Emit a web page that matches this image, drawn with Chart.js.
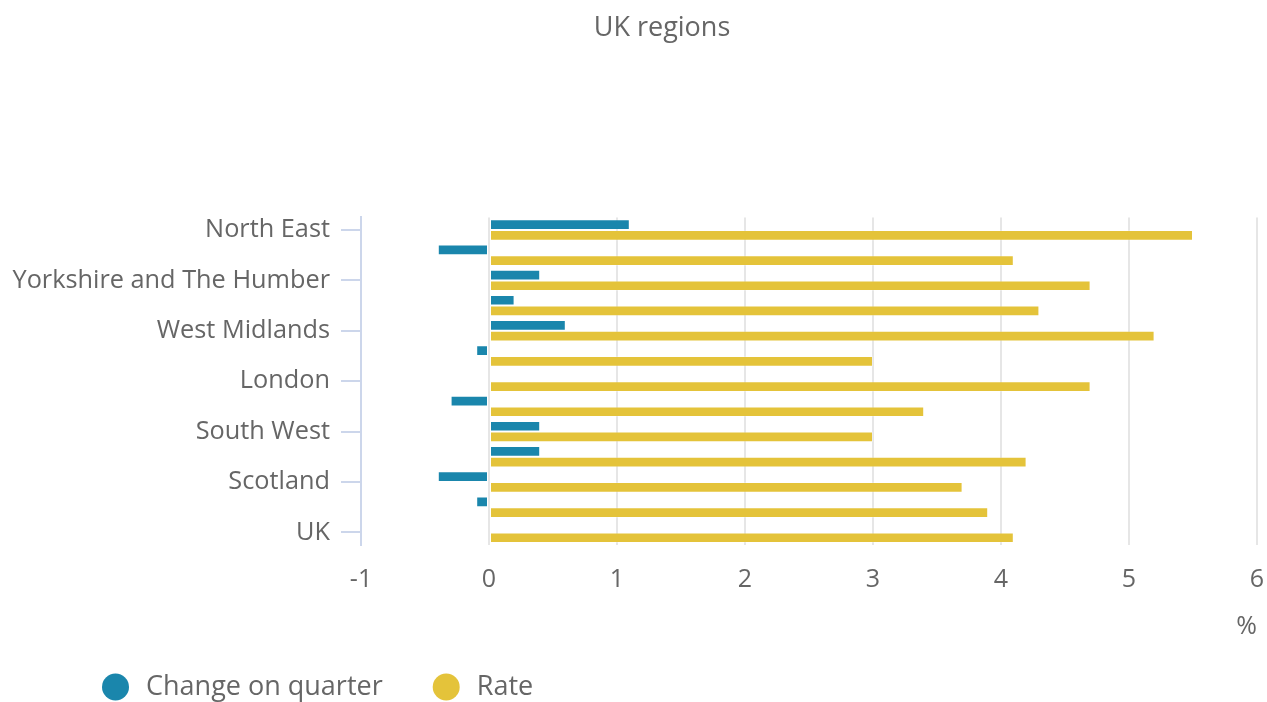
<!DOCTYPE html>
<html>
<head>
<meta charset="utf-8">
<script src="https://cdn.jsdelivr.net/npm/chart.js@4"></script>
<style>
  html, body { margin: 0; padding: 0; background: #fff; overflow: hidden; }
  #wrap { width: 1267px; height: 702px; }
</style>
</head>
<body>
<div id="wrap"><canvas id="regionsChart" width="1267" height="702"></canvas></div>
<script>
// UK regions: change on quarter and rate (%)
const regions = [
  "North East",
  "North West",
  "Yorkshire and The Humber",
  "East Midlands",
  "West Midlands",
  "East",
  "London",
  "South East",
  "South West",
  "Wales",
  "Scotland",
  "Northern Ireland",
  "UK",
];
const changeOnQuarter = [1.1, -0.4, 0.4, 0.2, 0.6, -0.1, 0, -0.3, 0.4, 0.4, -0.4, -0.1, 0];
const rate = [5.5, 4.1, 4.7, 4.3, 5.2, 3.0, 4.7, 3.4, 3.0, 4.2, 3.7, 3.9, 4.1];
const xTicks = [-1, 0, 1, 2, 3, 4, 5, 6];

Chart.defaults.font.family = "'Open Sans', sans-serif";
Chart.defaults.color = "#666666";

// title sits a little right of the canvas centre in the original
const titleShift = {
  id: "titleShift",
  afterLayout(chart) {
    if (chart.titleBlock) chart.titleBlock.left += 55;
  },
};

// legend drawn at the bottom left, like the original
const bottomLegend = {
  id: "bottomLegend",
  afterDraw(chart) {
    const ctx = chart.ctx;
    ctx.save();
    ctx.font = "27px 'Open Sans'";
    ctx.textBaseline = "middle";
    let x = 102;
    const y = chart.height - 15;
    chart.data.datasets.forEach((ds) => {
      ctx.fillStyle = ds.backgroundColor;
      ctx.beginPath();
      ctx.arc(x + 13.5, y, 13.5, 0, Math.PI * 2);
      ctx.fill();
      ctx.fillStyle = "#666666";
      ctx.fillText(ds.label, x + 44, y);
      x += 44 + ctx.measureText(ds.label).width + 50;
    });
    ctx.restore();
  },
};

const ctx = document.getElementById("regionsChart").getContext("2d");
const regionsChart = new Chart(ctx, {
  type: "bar",
  data: {
    labels: regions,
    datasets: [
      {
        label: "Change on quarter",
        data: changeOnQuarter,
        backgroundColor: "#1a86ac",
        borderColor: "rgba(255,255,255,0.25)",
        borderWidth: 1,
        borderSkipped: false,
      },
      {
        label: "Rate",
        data: rate,
        backgroundColor: "#e4c33a",
        borderColor: "rgba(255,255,255,0.25)",
        borderWidth: 1,
        borderSkipped: false,
      },
    ],
  },
  options: {
    indexAxis: "y",
    responsive: false,
    animation: false,
    layout: {
      padding: { left: 12, right: 10, top: 0, bottom: 60 },
    },
    datasets: {
      bar: {
        categoryPercentage: 0.85,
        barPercentage: 1.0,
      },
    },
    plugins: {
      legend: { display: false },
      tooltip: { enabled: false },
      title: {
        display: true,
        text: "UK regions",
        color: "#666666",
        font: { size: 27, weight: "normal" },
        padding: { top: 12, bottom: 173 },
      },
    },
    scales: {
      x: {
        min: -1,
        max: 6,
        afterBuildTicks: (scale) => {
          scale.ticks = xTicks.map((v) => ({ value: v }));
        },
        afterFit: (scale) => {
          scale.height = 97;
          scale.paddingLeft = 0;
          scale.paddingRight = 0;
        },
        grid: {
          color: (c) => (c.tick && c.tick.value === -1 ? "rgba(0,0,0,0)" : "#e6e6e6"),
          lineWidth: 2,
          drawTicks: false,
        },
        border: { display: false },
        ticks: {
          padding: 20,
          font: { size: 25 },
          color: "#666666",
        },
        title: {
          display: true,
          text: "%",
          align: "end",
          color: "#666666",
          font: { size: 25 },
          padding: { top: 17, bottom: 0 },
        },
      },
      y: {
        afterFit: (scale) => {
          scale.width = 349;
        },
        grid: {
          offset: false,
          drawOnChartArea: false,
          drawTicks: true,
          tickLength: 20,
          lineWidth: 2,
          tickColor: (c) => (c.index % 2 === 0 ? "#ccd6eb" : "rgba(0,0,0,0)"),
        },
        border: { color: "#ccd6eb", width: 2 },
        ticks: {
          autoSkip: false,
          padding: 11,
          font: { size: 25.3 },
          color: "#666666",
          callback: function (value, index) {
            return index % 2 === 0 ? this.getLabelForValue(value) : "";
          },
        },
      },
    },
  },
  plugins: [titleShift, bottomLegend],
});
</script>
</body>
</html>
